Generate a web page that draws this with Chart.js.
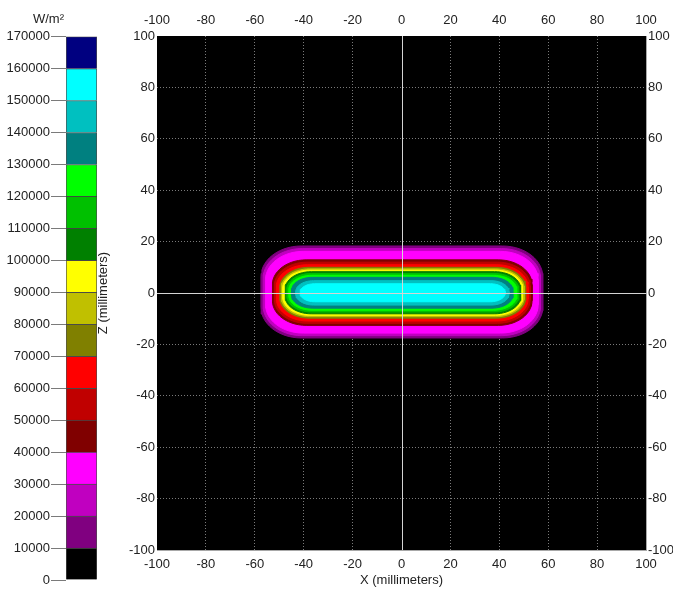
<!DOCTYPE html>
<html>
<head>
<meta charset="utf-8">
<script src="https://cdn.jsdelivr.net/npm/chart.js@4/dist/chart.umd.min.js"></script>
<style>
  html, body { margin: 0; padding: 0; background: #ffffff; }
  #wrap { position: relative; width: 673px; height: 590px; overflow: hidden; }
  #barBox { position: absolute; left: 0; top: 0; width: 98px; height: 590px; }
  #mapBox { position: absolute; left: 92px; top: 0; width: 581px; height: 590px; }
  canvas { display: block; }
</style>
</head>
<body>
<div id="wrap">
  <div id="barBox"><canvas id="scaleBar" width="98" height="590"></canvas></div>
  <div id="mapBox"><canvas id="fluxMap" width="581" height="590"></canvas></div>
</div>
<script>
// Colour scale: band edges in W/m² and the colour of each band (lowest first)
const scaleTicks = [0, 10000, 20000, 30000, 40000, 50000, 60000, 70000, 80000,
  90000, 100000, 110000, 120000, 130000, 140000, 150000, 160000, 170000];
const bandColors = ['#000000', '#800080', '#c000c0', '#ff00ff', '#800000', '#c00000',
  '#ff0000', '#808000', '#c0c000', '#ffff00', '#008000', '#00c000', '#00ff00',
  '#008080', '#00c0c0', '#00ffff', '#000080'];

// Flux contours (W/m²) and the extent of each closed contour, in millimetres
const contourLevels = [10000, 20000, 30000, 40000, 50000, 60000, 70000, 80000,
  90000, 100000, 110000, 120000, 130000, 140000, 150000];
const contourLeft   = [-57.5, -56.6, -55.6, -52.8, -52.0, -51.2, -49.8, -49.2, -48.6, -47.6, -46.9, -46.1, -45.0, -43.3, -41.5];
const contourRight  = [57.8, 56.9, 55.9, 53.4, 52.6, 51.8, 50.8, 50.2, 49.6, 48.8, 48.0, 47.2, 45.6, 44.0, 42.4];
const contourTop    = [18.3, 17.3, 16.2, 12.9, 12.0, 11.0, 10.0, 9.4, 8.9, 8.3, 7.6, 6.9, 6.1, 4.8, 3.6];
const contourBottom = [-17.5, -16.6, -15.6, -12.6, -11.8, -10.9, -9.8, -9.2, -8.7, -8.1, -7.4, -6.7, -5.9, -4.7, -3.4];
const cornerX       = [16.5, 16.0, 15.4, 13.8, 13.3, 12.8, 12.0, 11.6, 11.2, 10.7, 10.1, 9.5, 8.6, 7.4, 6.0];
const cornerZ       = [12.0, 11.6, 11.0, 9.6, 9.1, 8.6, 7.9, 7.5, 7.1, 6.7, 6.2, 5.7, 5.1, 4.3, 3.3];

// Axis ticks in millimetres
const axisTicks = [-100, -80, -60, -40, -20, 0, 20, 40, 60, 80, 100];

const FONT = { family: "'Liberation Sans', Arial, sans-serif", size: 13, weight: 'normal' };
const INK = '#222222';
const GRID = '#7a7a7a';
const ZERO = '#d4d4d4';
const FRAME = '#a8a8a8';

// Colour of the band a threshold value starts
function bandColor(value) {
  return bandColors[scaleTicks.indexOf(value)];
}

// Closed outline of a contour: straight sides joined by elliptical corners
function contourOutline(i) {
  const L = contourLeft[i], R = contourRight[i], T = contourTop[i], B = contourBottom[i];
  const rx = cornerX[i], rz = cornerZ[i];
  const corners = [
    { cx: R - rx, cz: T - rz, a0: 90 },
    { cx: R - rx, cz: B + rz, a0: 0 },
    { cx: L + rx, cz: B + rz, a0: -90 },
    { cx: L + rx, cz: T - rz, a0: -180 }
  ];
  const steps = 14;
  const pts = [];
  corners.forEach(c => {
    for (let s = 0; s <= steps; s++) {
      const a = (c.a0 - 90 * s / steps) * Math.PI / 180;
      pts.push({ x: c.cx + rx * Math.cos(a), y: c.cz + rz * Math.sin(a) });
    }
  });
  pts.push({ x: pts[0].x, y: pts[0].y });
  return pts;
}

const contourDatasets = contourLevels.map((level, i) => {
  const color = bandColor(level);
  return {
    label: String(level),
    data: contourOutline(i),
    fill: 'shape',
    backgroundColor: color,
    borderColor: color,
    borderWidth: 1,
    pointRadius: 0,
    pointHitRadius: 0,
    tension: 0,
    order: contourLevels.length - i
  };
});

// Black background behind the flux map
const plotBackground = {
  id: 'plotBackground',
  beforeDraw(chart, args, opts) {
    const { ctx, chartArea: a } = chart;
    ctx.save();
    ctx.fillStyle = opts.color || '#000000';
    ctx.fillRect(a.left, a.top, a.width, a.height);
    ctx.restore();
  }
};

// Solid X = 0 and Z = 0 axis lines, drawn over the contours
const zeroAxes = {
  id: 'zeroAxes',
  afterDatasetsDraw(chart, args, opts) {
    const { ctx, chartArea: a, scales } = chart;
    const px = Math.round(scales.x.getPixelForValue(0)) + 0.5;
    const py = Math.round(scales.y.getPixelForValue(0)) + 0.5;
    ctx.save();
    ctx.strokeStyle = opts.color;
    ctx.lineWidth = 1;
    ctx.beginPath();
    ctx.moveTo(a.left, py);
    ctx.lineTo(a.right, py);
    ctx.moveTo(px, a.top);
    ctx.lineTo(px, a.bottom);
    ctx.stroke();
    ctx.restore();
  }
};

const setAxisTicks = scale => { scale.ticks = axisTicks.map(v => ({ value: v })); };
const dottedGrid = ctx => (ctx.tick && (ctx.tick.value === 0 || Math.abs(ctx.tick.value) === 100)) ? 'transparent' : GRID;
const tickText = { color: INK, font: FONT, autoSkip: false, maxRotation: 0, callback: v => String(v) };

new Chart(document.getElementById('fluxMap'), {
  type: 'line',
  data: { datasets: contourDatasets },
  options: {
    responsive: false,
    animation: false,
    events: [],
    layout: { padding: 0 },
    plugins: {
      legend: { display: false },
      tooltip: { enabled: false },
      plotBackground: { color: '#000000' },
      zeroAxes: { color: ZERO }
    },
    scales: {
      x: {
        type: 'linear', position: 'bottom', min: -100, max: 100,
        afterBuildTicks: setAxisTicks,
        afterFit: s => { s.height = 40; },
        grid: { drawTicks: false, color: dottedGrid, lineWidth: 1 },
        border: { display: true, color: FRAME, dash: [1, 2] },
        ticks: Object.assign({ padding: 7 }, tickText),
        title: { display: true, text: 'X (millimeters)', color: INK, font: FONT, padding: { top: 0, bottom: 2 } }
      },
      xTop: {
        type: 'linear', position: 'top', min: -100, max: 100,
        afterBuildTicks: setAxisTicks,
        afterFit: s => { s.height = 36; },
        grid: { drawTicks: false, color: 'transparent', lineWidth: 1 },
        border: { display: false },
        ticks: Object.assign({ padding: 8 }, tickText)
      },
      y: {
        type: 'linear', position: 'left', min: -100, max: 100,
        afterBuildTicks: setAxisTicks,
        afterFit: s => { s.width = 65; },
        grid: { drawTicks: false, color: dottedGrid, lineWidth: 1 },
        border: { display: false, dash: [1, 2] },
        ticks: Object.assign({ padding: 2 }, tickText),
        title: { display: true, text: 'Z (millimeters)', color: INK, font: FONT, padding: { top: 4, bottom: 0 } }
      },
      yRight: {
        type: 'linear', position: 'right', min: -100, max: 100,
        afterBuildTicks: setAxisTicks,
        afterFit: s => { s.width = 27; },
        grid: { drawTicks: false, color: 'transparent', lineWidth: 1 },
        border: { display: true, color: FRAME },
        ticks: Object.assign({ padding: 2 }, tickText)
      }
    }
  },
  plugins: [plotBackground, zeroAxes]
});

// Colour scale bar: one floating bar segment per band
const bandDatasets = bandColors.map((color, i) => ({
  label: scaleTicks[i] + '-' + scaleTicks[i + 1],
  data: [[scaleTicks[i], scaleTicks[i + 1]]],
  backgroundColor: color,
  borderColor: 'rgba(45,45,45,0.85)',
  borderWidth: { top: 1, left: 1, right: 1, bottom: 0 },
  borderSkipped: false,
  barPercentage: 1,
  categoryPercentage: 1,
  grouped: false
}));

new Chart(document.getElementById('scaleBar'), {
  type: 'bar',
  data: { labels: ['W/m²'], datasets: bandDatasets },
  options: {
    responsive: false,
    animation: false,
    events: [],
    layout: { padding: { top: 0, bottom: 10, left: 0, right: 1 } },
    plugins: {
      legend: { display: false },
      tooltip: { enabled: false },
      title: { display: true, text: 'W/m²', color: INK, font: FONT, padding: { top: 12, bottom: 9 } }
    },
    scales: {
      x: { display: false },
      y: {
        type: 'linear', min: 0, max: 170000,
        afterBuildTicks: s => { s.ticks = scaleTicks.map(v => ({ value: v })); },
        afterFit: s => { s.width = 66; },
        grid: { drawOnChartArea: false, drawTicks: true, tickLength: 15, color: '#7a7a7a', lineWidth: 1 },
        border: { display: false },
        ticks: { color: INK, font: FONT, padding: 1, autoSkip: false, callback: v => String(v) }
      }
    }
  }
});
</script>
</body>
</html>
